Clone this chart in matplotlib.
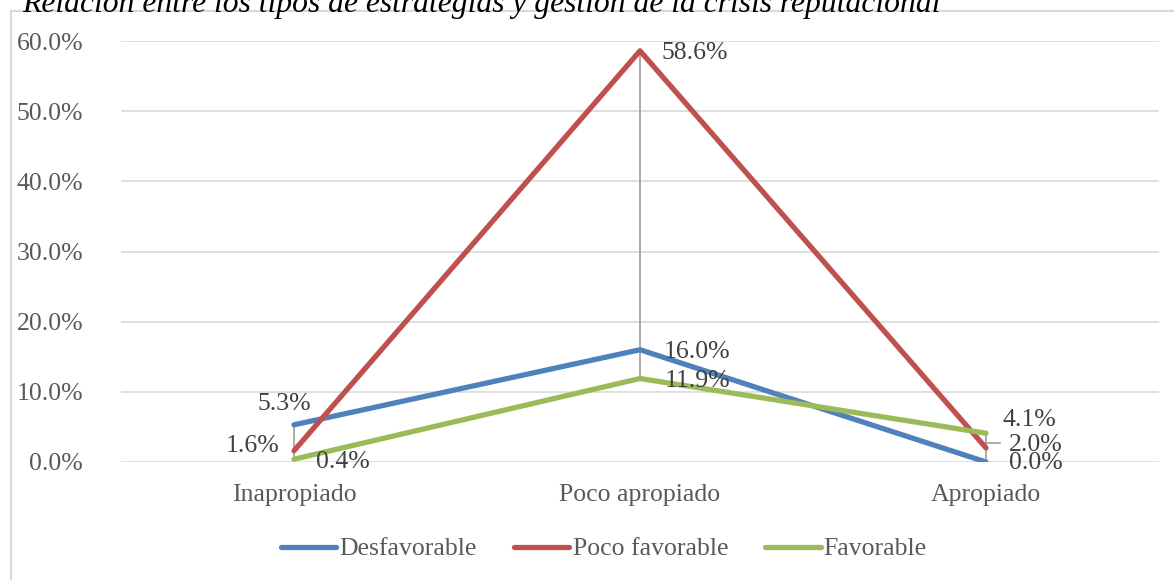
import matplotlib.pyplot as plt
import matplotlib.transforms as mtransforms
from matplotlib.patches import Rectangle
from matplotlib.lines import Line2D
from matplotlib.ticker import FuncFormatter

categories = ["Inapropiado", "Poco apropiado", "Apropiado"]
series_names = ["Desfavorable", "Poco favorable", "Favorable"]
desfavorable = [5.3, 16.0, 0.0]
poco_favorable = [1.6, 58.6, 2.0]
favorable = [0.4, 11.9, 4.1]
title = "Relación entre los tipos de estrategias y gestión de la crisis reputacional"

colors = ["#4F81BD", "#C0504D", "#9BBB59"]
series = [desfavorable, poco_favorable, favorable]

plt.rcParams["font.family"] = ["Liberation Serif", "DejaVu Serif"]

W, H = 1174, 580
PX = 0.72  # points per pixel at 100 dpi
FS = 18.5
fig = plt.figure(figsize=(W / 100, H / 100), dpi=100)

# chart frame
fig.patches.append(Rectangle((11 / W, -0.1), 1.2, (H - 11) / H + 0.1,
                             transform=fig.transFigure, fill=False,
                             edgecolor="#D9D9D9", linewidth=1.5))

# title, partially above the top edge
fig.text(22 / W, (H - 12) / H, title, fontsize=22.8, style="italic",
         color="black", ha="left", va="baseline")

ax = fig.add_axes([121 / W, (H - 462) / H, (1159 - 121) / W, (462 - 41) / H])
x = list(range(len(categories)))
ax.set_xlim(-0.5, 2.5)
ax.set_ylim(0, 60)
ax.set_yticks([0, 10, 20, 30, 40, 50, 60])
ax.yaxis.set_major_formatter(FuncFormatter(lambda v, p: f"{v:.1f}%"))
ax.set_xticks(x)
ax.set_xticklabels(categories)
ax.tick_params(axis="both", length=0, labelsize=FS, labelcolor="#595959")
ax.tick_params(axis="y", pad=38 * PX)
ax.tick_params(axis="x", pad=16)
for s in ax.spines.values():
    s.set_visible(False)
ax.grid(axis="y", color="#D9D9D9", linewidth=1.2)
ax.set_axisbelow(True)

# high-low lines
for i in x:
    vals = [s[i] for s in series]
    ax.plot([i, i], [min(vals), max(vals)], color="#A6A6A6", linewidth=1.3, zorder=2)

for vals, c, name in zip(series, colors, series_names):
    ax.plot(x, vals, color=c, linewidth=3.8, solid_capstyle="round", label=name, zorder=3)

# data label offsets in pixels: (category, series) -> (dx, dy)
offsets = {
    (0, 0): (-10, 21), (0, 1): (-41, 5), (0, 2): (49, -3),
    (1, 0): (57, -2), (1, 1): (55, -2), (1, 2): (57, -2),
    (2, 0): (50, -1), (2, 1): (50, 3), (2, 2): (43, 13),
}
label_color = "#404040"
for si, vals in enumerate(series):
    for ci, v in enumerate(vals):
        dx, dy = offsets[(ci, si)]
        ax.annotate(f"{v:.1f}%", (ci, v), xytext=(dx * PX, dy * PX),
                    textcoords="offset points", ha="center", va="center",
                    fontsize=FS, color=label_color, zorder=4)

# leader line for the 2.0% label
lead = mtransforms.offset_copy(ax.transData, fig=fig, x=0, y=5 * PX, units="points")
lead2 = mtransforms.offset_copy(ax.transData, fig=fig, x=14 * PX, y=5 * PX, units="points")
x0, y0 = lead.transform((2, poco_favorable[2]))
x1, y1 = lead2.transform((2, poco_favorable[2]))
ax.add_line(Line2D([x0, x1], [y0, y1], transform=None, color="#A6A6A6",
                   linewidth=1.3, zorder=2))

handles = [Line2D([], [], color=c, linewidth=3.8, solid_capstyle="round") for c in colors]
fig.legend(handles, series_names, loc="center", bbox_to_anchor=(604 / W, (H - 549) / H),
           ncol=3, frameon=False, fontsize=FS, handlelength=2.15, handletextpad=0.12,
           columnspacing=1.45, labelcolor="#595959")

fig.savefig("out.png", dpi=100)
